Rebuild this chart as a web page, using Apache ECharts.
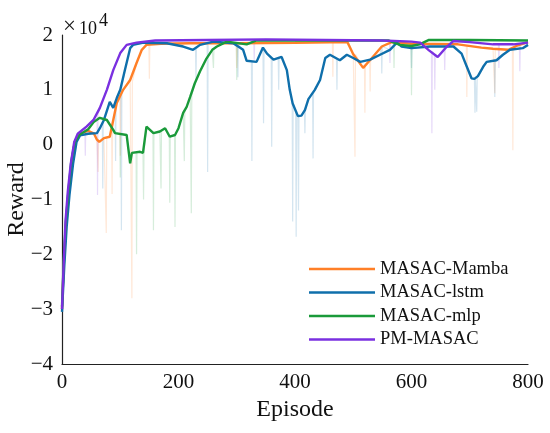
<!DOCTYPE html>
<html>
<head>
<meta charset="utf-8">
<script src="https://cdn.jsdelivr.net/npm/echarts@6/dist/echarts.min.js"></script>
<style>
  html, body { margin: 0; padding: 0; background: #fff; }
  #chart { width: 550px; height: 433px; }
</style>
</head>
<body>
<div id="chart"></div>
<script>
// smoothed curves, [episode, reward]
var pmMasac = [[0,-30000],[3,-21500],[6,-14000],[10,-8500],[15,-3500],[21,500],[27,2000],[42,3300],[54,4500],[65,6700],[77,10000],[88,13600],[100,16700],[111,18200],[128,18600],[160,19000],[250,19100],[350,19200],[450,19100],[550,19000],[600,18800],[615,18600],[630,17200],[645,16000],[660,17800],[672,18900],[700,18700],[740,18300],[775,18300],[800,18600]];
var masacMamba = [[0,-30000],[3,-22000],[7,-14000],[11,-9000],[16,-3500],[22,500],[30,2000],[45,2500],[55,2000],[60,900],[64,500],[72,1200],[82,1450],[88,4500],[94,7600],[105,10000],[117,11800],[128,14900],[137,17300],[145,18200],[170,18400],[220,18500],[300,18500],[400,18600],[490,18700],[500,16500],[517,14000],[532,15800],[549,17900],[566,18700],[600,18400],[680,18300],[720,17700],[740,17500],[766,17300],[780,18000],[800,18700]];
var masacLstm = [[0,-30500],[4,-22000],[8,-15000],[13,-9000],[19,-3500],[25,500],[31,1700],[45,2000],[60,2100],[65,3000],[72,4500],[82,7800],[88,6700],[94,8500],[100,10000],[108,13600],[117,17600],[122,18200],[140,18600],[180,18500],[208,17900],[225,17300],[237,18200],[260,18800],[294,18500],[311,17300],[317,15300],[334,15100],[345,17700],[352,16600],[363,15500],[377,16000],[386,13600],[391,10000],[396,7500],[405,5200],[411,5300],[417,6300],[423,8300],[434,10000],[443,11800],[452,15800],[460,16400],[477,15400],[489,16400],[500,15800],[512,15100],[529,15500],[546,16400],[563,17300],[575,18600],[583,17900],[600,17600],[632,17900],[672,17900],[686,16600],[695,14200],[703,12100],[708,12000],[714,12500],[723,14200],[729,15100],[746,15400],[757,16400],[769,17300],[791,17600],[800,18200]];
var masacMlp = [[0,-29500],[3,-21000],[7,-13500],[11,-8500],[16,-3000],[22,500],[30,1800],[45,2800],[55,4200],[65,4900],[77,4500],[88,2700],[91,2100],[111,1760],[117,-3400],[120,-1500],[134,-1300],[139,-1500],[145,3300],[157,2100],[168,2400],[177,3000],[185,1450],[194,1760],[200,3000],[208,5800],[214,6900],[220,8700],[228,11200],[237,13400],[248,15700],[258,17300],[266,17900],[283,18800],[317,18300],[334,19000],[400,19000],[500,19000],[560,19000],[580,18200],[600,18000],[614,18300],[630,19100],[700,19100],[800,19000]];

// raw-episode spikes, [episode, top, bottom]
var pmSpikes = [[40,3000,-2000],[61,5500,-9200],[330,19000,15500],[563,19000,14900],[635,17000,2100],[640,16500,10000],[657,17500,13600],[750,18300,14000],[786,18300,13400]];
var mambaSpikes = [[62,1000,-5000],[76,1300,-16100],[86,3000,-9000],[100,9000,-2000],[120,11500,-28000],[150,18300,12000],[300,18500,14000],[465,18700,12400],[503,16500,-2200],[520,14500,5800],[529,15500,9700],[695,18000,8700],[743,17500,9400],[774,17300,-1000]];
var lstmSpikes = [[70,4000,-8000],[92,8000,-3000],[102,10500,-15600],[230,17500,12000],[250,18500,-5000],[302,18300,12300],[326,15200,-3000],[346,17500,3900],[360,15600,-400],[372,15800,10000],[396,7500,-14000],[402,6000,-16800],[406,5200,-12000],[417,6300,2100],[431,9500,-2500],[472,15600,10000],[549,17900,13000],[600,17600,14000],[709,12000,5800],[712,12200,6000],[743,15400,8700]];
var mlpSpikes = [[100,2000,-6000],[128,-1300,-20000],[140,-1400,-10000],[157,2100,-15600],[170,2600,-8000],[185,1450,-10600],[194,1760,-15000],[210,6000,-3000],[222,9000,-12500],[260,17500,14000],[300,18700,11800],[570,18700,14000],[600,18000,9000]];

var names = ['MASAC-Mamba', 'MASAC-lstm', 'MASAC-mlp', 'PM-MASAC'];
var colors = ['#ff7f27', '#0f6fab', '#1a9a3a', '#7a30e0'];
var curves = [masacMamba, masacLstm, masacMlp, pmMasac];
var spikes = [mambaSpikes, lstmSpikes, mlpSpikes, pmSpikes];

var xTicks = [0, 200, 400, 600, 800];
var yTicks = [-40000, -30000, -20000, -10000, 0, 10000, 20000];

var serif = 'Liberation Serif';

function rawData(curve, sp) {
    var pts = curve.slice();
    sp.forEach(function (s) {
        pts.push([s[0] - 0.8, s[1]], [s[0], s[2]], [s[0] + 0.8, s[1]]);
    });
    pts.sort(function (a, b) { return a[0] - b[0]; });
    return pts;
}

var series = [];
for (var i = 0; i < 4; i++) {
    series.push({
        name: names[i] + ' raw',
        type: 'line',
        data: rawData(curves[i], spikes[i]),
        showSymbol: false,
        silent: true,
        lineStyle: { color: colors[i], width: 1.2, opacity: 0.18 },
        z: 1
    });
}
for (var j = 0; j < 4; j++) {
    series.push({
        name: names[j],
        type: 'line',
        data: curves[j],
        showSymbol: false,
        itemStyle: { color: colors[j] },
        lineStyle: { color: colors[j], width: 2.4 },
        z: 3 + (j === 3 ? 1 : 0)
    });
}

function supText(x, y, str, size) {
    return {
        type: 'text', x: x, y: y,
        style: {
            text: str, fontFamily: serif, fontSize: size, fill: '#111',
            verticalAlign: 'middle', textVerticalAlign: 'middle'
        }
    };
}

var chart = echarts.init(document.getElementById('chart'));
chart.setOption({
    animation: false,
    backgroundColor: '#fff',
    textStyle: { fontFamily: serif },
    grid: { left: 62, right: 22, top: 35, bottom: 69, containLabel: false, outerBoundsMode: 'none' },
    legend: {
        data: names,
        orient: 'vertical',
        left: 304,
        top: 254,
        icon: 'rect',
        itemWidth: 66,
        itemHeight: 2.5,
        itemGap: 3.5,
        textStyle: { fontFamily: serif, fontSize: 18.5, color: '#111', lineHeight: 20 }
    },
    xAxis: {
        type: 'value',
        min: xTicks[0],
        max: xTicks[xTicks.length - 1],
        interval: 200,
        name: 'Episode',
        nameLocation: 'middle',
        nameGap: 34,
        nameTextStyle: { fontFamily: serif, fontSize: 24, color: '#111' },
        axisLine: { onZero: false, lineStyle: { color: '#222', width: 1.2 } },
        axisTick: { show: false },
        splitLine: { show: false },
        axisLabel: { fontFamily: serif, fontSize: 21, color: '#111', margin: 8 }
    },
    yAxis: {
        type: 'value',
        min: yTicks[0],
        max: yTicks[yTicks.length - 1],
        interval: 10000,
        name: 'Reward',
        nameLocation: 'middle',
        nameGap: 33,
        nameMoveOverlap: false,
        nameTextStyle: { fontFamily: serif, fontSize: 24, color: '#111' },
        axisLine: { show: true, onZero: false, lineStyle: { color: '#222', width: 1.2 } },
        axisTick: { show: false },
        splitLine: { show: false },
        axisLabel: {
            fontFamily: serif, fontSize: 21, color: '#111', margin: 9,
            formatter: function (v) {
                var n = v / 10000;
                return (n < 0 ? '\u2212' : '') + Math.abs(n);
            }
        }
    },
    graphic: [
        supText(63, 27, '\u00d7', 23),
        supText(79, 29, '10', 18),
        supText(99, 21, '4', 18)
    ],
    series: series
});
</script>
</body>
</html>
